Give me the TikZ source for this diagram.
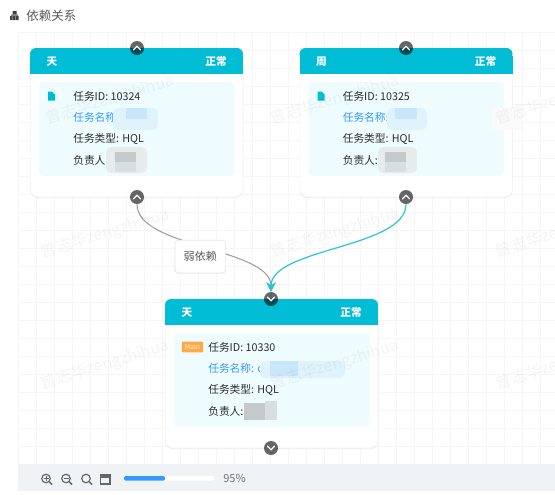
\documentclass[tikz,border=0pt]{standalone}
\usepackage{fontspec}
\setmainfont{Noto Sans CJK SC}
\usetikzlibrary{arrows.meta,shadows}
\definecolor{teal1}{HTML}{00BCD4}
\definecolor{teal2}{HTML}{26C6DA}
\definecolor{panelc}{HTML}{EFFCFF}
\definecolor{gridc}{HTML}{F6F6F6}
\definecolor{barc}{HTML}{F0F3F6}
\definecolor{bluec}{HTML}{3399FF}
\definecolor{txtc}{HTML}{2B2B2B}
\definecolor{blurA}{HTML}{E0F3FD}
\definecolor{blurB}{HTML}{C9E7FB}
\definecolor{grayA}{HTML}{E6EBEC}
\definecolor{grayB}{HTML}{C4C9CB}
\definecolor{grayC}{HTML}{D8DEDF}
\definecolor{badgec}{HTML}{FFA940}
\tikzset{
  x=0.75pt,y=-0.75pt,
  cardbox/.style={fill=white,draw=black!5,line width=0.5pt,rounded corners=6pt,drop shadow={shadow xshift=0pt,shadow yshift=-1pt,opacity=0.06,fill=black}},
  rowtxt/.style={anchor=west,inner sep=0pt,text=txtc,font=\fontsize{8.05pt}{10pt}\selectfont},
  linktxt/.style={rowtxt,text=bluec},
  headtxt/.style={inner sep=0pt,text=white,font=\fontsize{8pt}{10pt}\selectfont\bfseries},
  knob/.style={circle,fill=black,fill opacity=0.6,minimum size=10.5pt,inner sep=0pt},
  chev/.style={draw=white,line width=1pt,line cap=round,line join=round},
  edgegray/.style={draw=black!38,line width=0.8pt},
  edgeteal/.style={draw=teal2,line width=0.9pt},
  wmark/.style={text=black,text opacity=0.045,rotate=17,inner sep=0pt,font=\fontsize{12pt}{14pt}\selectfont},
  icon/.style={draw=black!60,line width=0.9pt},
}
\newcommand{\cardbody}[6]{%
 \begin{scope}[shift={(#2,#3)}]
  \node[cardbox,minimum width=159.5pt,minimum height=111.5pt,inner sep=0pt,anchor=north west] (#1card) at (0,0) {};
  \fill[teal1,rounded corners=4.5pt] (0,0) rectangle (213,12);
  \fill[teal1] (0,8) rectangle (213,26);
  \fill[panelc,rounded corners=3pt] (9,34) rectangle (204.5,128);
  \node[headtxt] (#1tag) at (22,13.5) {#4};
  \node[headtxt] (#1state) at (186,13.5) {正常};
  \node[rowtxt] (#1id) at (43,48.5) {任务ID: #5};
  \node[linktxt] (#1name) at (43,69.5) {#6};
  \node[rowtxt] (#1type) at (43,91) {任务类型: HQL};
  \node[rowtxt] (#1owner) at (43,112) {负责人:};
 \end{scope}}
\newcommand{\blobb}[5]{\fill[#5,rounded corners=4pt] (#1,#2) rectangle (#3,#4);}
\begin{document}
\begin{tikzpicture}
\useasboundingbox (0,0) rectangle (555,494);
\fill[white] (0,0) rectangle (555,494);
% grid
\foreach \gx in {18,36,...,554} \draw[gridc,line width=0.6pt] (\gx,32) -- (\gx,464);
\foreach \gy in {32,50,...,464} \draw[gridc,line width=0.6pt] (18,\gy) -- (555,\gy);
% title
\node[anchor=west,inner sep=0pt,text=black!65,font=\fontsize{9.4pt}{11pt}\selectfont] (title) at (26,15.5) {依赖关系};
\fill[black!75] (12.5,11) rectangle (16.5,14) (10,16) rectangle (12.5,20) (13,16) rectangle (15.5,20) (16,16) rectangle (18.5,20) (11,14.5) rectangle (18,15.5);
% cards
\cardbody{a}{30}{48}{天}{10324}{任务名称}
\cardbody{b}{299.5}{48}{周}{10325}{任务名称:}
\cardbody{c}{165}{299}{天}{10330}{任务名称: c}
% file icons
\foreach \ix in {48,317.5} \fill[teal1] (\ix,91.5) -- (\ix+4,91.5) -- (\ix+7,94.5) -- (\ix+7,100.5) -- (\ix,100.5) -- cycle;
% main badge
\node[fill=badgec,text=white,font=\fontsize{5pt}{5pt}\selectfont,inner sep=0pt,minimum width=15.8pt,minimum height=8pt,rounded corners=0.5pt] (mainbadge) at (192.5,347) {Main};
% blurred patches
\blobb{113}{108}{158}{130}{blurA}
\fill[blurB] (126,108) rectangle (147,119);
\blobb{106}{147}{147}{173}{grayA}
\fill[grayB] (115,152) rectangle (136,162);
\fill[grayC] (115,162) rectangle (136,172);
\blobb{387}{108}{427}{130}{blurA}
\fill[blurB] (395,108) rectangle (417,119);
\blobb{378}{147}{417}{173}{grayA}
\fill[grayB] (385,152) rectangle (406,162);
\fill[grayC] (385,162) rectangle (406,172);
\fill[black!2] (492,108) rectangle (522,130);
\blobb{260}{361}{345}{378}{blurA}
\fill[blurB] (270,361) rectangle (298,376);
\fill[grayB] (244,403) rectangle (265,420);
\fill[grayC] (265,401) rectangle (277,420);
% connector ends
\node[knob] (aout) at (137,197) {};
\node[knob] (bout) at (406,197) {};
\node[knob] (cin) at (271,299) {};
\draw[edgegray,-{Stealth[length=7pt,width=7pt]}] (aout) .. controls (137,248) and (271,248) .. (cin);
\draw[edgeteal,-{Stealth[length=7pt,width=7pt]}] (bout) .. controls (406,248) and (271,248) .. (cin);
\node[knob] (ain) at (137,48) {};
\node[knob] (bin) at (406,48) {};
\node[knob] (cout) at (271,448) {};
% chevrons
\foreach \kn in {ain,aout,bin,bout} \draw[chev] ([shift={(-3.5,1.8)}]\kn.center) -- ([shift={(0,-1.8)}]\kn.center) -- ([shift={(3.5,1.8)}]\kn.center);
\foreach \kn in {cin,cout} \draw[chev] ([shift={(-3.5,-1.8)}]\kn.center) -- ([shift={(0,1.8)}]\kn.center) -- ([shift={(3.5,-1.8)}]\kn.center);
% edge label
\node[fill=white,draw=black!10,line width=0.5pt,rounded corners=2.5pt,minimum width=38pt,minimum height=24.5pt,inner sep=0pt,text=black!65,font=\fontsize{8.3pt}{10pt}\selectfont,drop shadow={shadow xshift=0pt,shadow yshift=-0.7pt,opacity=0.06,fill=black}] (weak) at (200.3,256.5) {弱依赖};
% watermarks
\foreach \wx/\wy in {110/100,335/100,560/100,105/234,335/233,560/233,105/365,335/365,560/365}
  \node[wmark] at (\wx,\wy) {曾志华zengzhihua};
% toolbar
\fill[barc] (18,464) rectangle (555,491);
\foreach \mx in {46,66,86} {
  \draw[icon] (\mx,478.5) circle (3.2pt);
  \draw[icon,line width=1.1pt] (\mx+3.5,482) -- (\mx+6,484.5);
}
\draw[icon,line width=0.6pt] (43.5,478.5) -- (48.5,478.5) (46,476) -- (46,481);
\draw[icon,line width=0.6pt] (63.5,478.5) -- (68.5,478.5);
\draw[icon] (100.5,474.5) rectangle (110,484);
\fill[black!60] (100.5,474.5) rectangle (110,477.5);
\fill[white,rounded corners=1.5pt] (124,476) rectangle (214,480.5);
\fill[bluec,rounded corners=1pt] (124,476) rectangle (165,480.5);
\node[anchor=west,inner sep=0pt,text=black!55,font=\fontsize{8.3pt}{10pt}\selectfont] (zoompct) at (223,478) {95\%};
\end{tikzpicture}
\end{document}
